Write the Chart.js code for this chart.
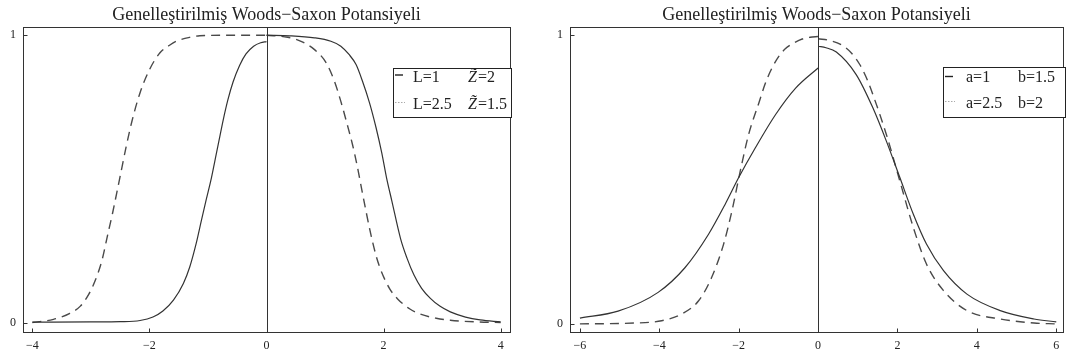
<!DOCTYPE html>
<html>
<head>
<meta charset="utf-8">
<script src="https://cdn.jsdelivr.net/npm/chart.js@4.4.0/dist/chart.umd.min.js"></script>
<style>
  body { margin: 0; background: #fff; width: 1067px; height: 358px; position: relative; overflow: hidden; }
  #wrapL { position: absolute; left: 0; top: 0; }
  #wrapR { position: absolute; left: 540px; top: 0; }
</style>
</head>
<body>
<div id="wrapL"><canvas id="chartL" width="540" height="358"></canvas></div>
<div id="wrapR"><canvas id="chartR" width="527" height="358"></canvas></div>
<script>
// Genelleştirilmiş Woods-Saxon potansiyeli - iki panel

const chartTitle = 'Genelleştirilmiş Woods−Saxon Potansiyeli';

// sol panel: L=1 Z=2 (düz) / L=2.5 Z=1.5 (kesikli)
const leftXTicks = [-4, -2, 0, 2, 4];
const leftYTicks = [0, 1];

const solidNegX = [-4.0, -3.0, -2.5, -2.16, -1.94, -1.77, -1.59, -1.42, -1.31, -1.20, -1.11, -1.03, -0.94, -0.885, -0.81, -0.74, -0.66, -0.57, -0.46, -0.35, -0.22, -0.1, 0];
const solidNegY = [0.002, 0.003, 0.004, 0.008, 0.02, 0.041, 0.079, 0.137, 0.195, 0.277, 0.358, 0.428, 0.505, 0.56, 0.635, 0.705, 0.775, 0.838, 0.895, 0.935, 0.962, 0.974, 0.978];
const solidPosX = [0, 0.4, 0.82, 1.10, 1.27, 1.41, 1.53, 1.64, 1.76, 1.87, 1.97, 2.05, 2.14, 2.29, 2.40, 2.52, 2.65, 2.80, 2.96, 3.14, 3.4, 3.65, 4.0];
const solidPosY = [1.0, 0.998, 0.991, 0.979, 0.962, 0.933, 0.898, 0.84, 0.765, 0.68, 0.59, 0.505, 0.425, 0.293, 0.225, 0.166, 0.12, 0.085, 0.058, 0.038, 0.02, 0.01, 0.003];

const dashNegX = [-4.0, -3.64, -3.36, -3.18, -3.04, -2.93, -2.81, -2.72, -2.63, -2.56, -2.48, -2.40, -2.30, -2.16, -2.0, -1.82, -1.65, -1.54, -1.3, -1.14, -0.6, 0];
const dashNegY = [0.001, 0.012, 0.033, 0.058, 0.098, 0.145, 0.218, 0.30, 0.381, 0.45, 0.53, 0.61, 0.70, 0.80, 0.88, 0.939, 0.966, 0.979, 0.993, 0.998, 1.0, 1.0];
const dashPosX = [0, 0.36, 0.59, 0.82, 1.02, 1.16, 1.27, 1.38, 1.47, 1.55, 1.64, 1.78, 1.87, 1.95, 2.1, 2.24, 2.45, 2.63, 2.9, 3.14, 3.6, 4.0];
const dashPosY = [1.0, 0.993, 0.979, 0.95, 0.904, 0.84, 0.77, 0.689, 0.619, 0.545, 0.45, 0.31, 0.235, 0.185, 0.12, 0.083, 0.048, 0.03, 0.016, 0.009, 0.003, 0.001];

// sağ panel: a=1 b=1.5 (düz) / a=2.5 b=2 (kesikli)
const rightXTicks = [-6, -4, -2, 0, 2, 4, 6];
const rightYTicks = [0, 1];

const abSolidNegX = [-6.0, -5.04, -4.03, -3.35, -2.76, -2.34, -2.0, -1.58, -1.07, -0.56, 0];
const abSolidNegY = [0.02, 0.044, 0.109, 0.195, 0.31, 0.414, 0.506, 0.609, 0.724, 0.816, 0.885];
const abSolidPosX = [0, 0.2, 0.46, 0.96, 1.38, 1.72, 2.06, 2.40, 2.73, 3.16, 3.75, 4.59, 5.44, 6.0];
const abSolidPosY = [0.96, 0.955, 0.94, 0.862, 0.747, 0.632, 0.506, 0.379, 0.276, 0.184, 0.103, 0.046, 0.017, 0.007];

const abDashNegX = [-6.0, -4.62, -3.94, -3.44, -3.01, -2.68, -2.38, -2.17, -1.96, -1.75, -1.49, -1.32, -1.16, -0.99, -0.82, -0.6, -0.4, -0.2, 0];
const abDashNegY = [0.0, 0.003, 0.011, 0.034, 0.08, 0.161, 0.276, 0.391, 0.529, 0.655, 0.765, 0.835, 0.885, 0.925, 0.952, 0.972, 0.985, 0.991, 0.994];
const abDashPosX = [0, 0.3, 0.62, 0.85, 1.05, 1.22, 1.38, 1.72, 2.06, 2.40, 2.73, 3.16, 3.75, 4.59, 5.44, 6.0];
const abDashPosY = [0.986, 0.98, 0.962, 0.935, 0.897, 0.85, 0.793, 0.655, 0.494, 0.333, 0.207, 0.115, 0.046, 0.017, 0.003, 0.0];

const SERIF = "'Liberation Serif', 'Times New Roman', serif";
Chart.defaults.font.family = SERIF;

const toPoints = (xs, ys) => xs.map((x, i) => ({ x: x, y: ys[i] }));

function curve(xs, ys, dashed) {
  return {
    data: toPoints(xs, ys),
    showLine: true,
    pointRadius: 0,
    borderColor: dashed ? '#4a4a4a' : '#333',
    borderWidth: dashed ? 1.4 : 1.2,
    borderDash: dashed ? [9, 6] : [],
    cubicInterpolationMode: 'monotone',
    fill: false
  };
}

const fmtTick = v => (v < 0 ? '−' + Math.abs(v) : String(v));

// çerçeve, içe dönük tikler ve x=0 ekseni
const framePlugin = {
  id: 'wsFrame',
  afterDatasetsDraw(chart) {
    const { ctx, chartArea: a, scales } = chart;
    const line = (x1, y1, x2, y2) => { ctx.beginPath(); ctx.moveTo(x1, y1); ctx.lineTo(x2, y2); ctx.stroke(); };
    ctx.save();
    ctx.strokeStyle = '#333';
    ctx.lineWidth = 1;
    ctx.setLineDash([]);
    const L = Math.round(a.left) + 0.5, R = Math.round(a.right) + 0.5;
    const T = Math.round(a.top) + 0.5, B = Math.round(a.bottom) + 0.5;
    ctx.strokeRect(L, T, R - L, B - T);
    const x0 = Math.round(scales.x.getPixelForValue(0)) + 0.5;
    line(x0, T, x0, B);
    scales.x.ticks.forEach(t => {
      const px = Math.round(scales.x.getPixelForValue(t.value)) + 0.5;
      line(px, B, px, B - 4);
    });
    scales.y.ticks.forEach(t => {
      const py = Math.round(scales.y.getPixelForValue(t.value)) + 0.5;
      line(L, py, L + 4, py);
    });
    ctx.restore();
  }
};

// kutulu lejant
function makeLegend(cfg) {
  return {
    id: 'wsLegend',
    afterDraw(chart) {
      const ctx = chart.ctx;
      ctx.save();
      ctx.fillStyle = '#fff';
      ctx.fillRect(cfg.x, cfg.y, cfg.w, cfg.h);
      ctx.strokeStyle = '#222';
      ctx.lineWidth = 1;
      ctx.strokeRect(cfg.x + 0.5, cfg.y + 0.5, cfg.w, cfg.h);
      cfg.rows.forEach((row, i) => {
        // örnek çizgi
        ctx.beginPath();
        ctx.strokeStyle = i === 0 ? '#222' : '#aaa';
        ctx.lineWidth = i === 0 ? 1.4 : 1;
        ctx.setLineDash(i === 0 ? [] : [1.5, 1.5]);
        ctx.moveTo(cfg.sx, row.ly);
        ctx.lineTo(cfg.sx + (i === 0 ? 8 : 10), row.ly);
        ctx.stroke();
        ctx.setLineDash([]);
        ctx.fillStyle = '#222';
        ctx.textBaseline = 'alphabetic';
        row.parts.forEach(p => {
          ctx.font = (p.italic ? 'italic ' : '') + '16px ' + SERIF;
          ctx.fillText(p.text, p.x, row.base);
        });
      });
      ctx.restore();
    }
  };
}

function makeOptions(xMin, xMax, yMin, yMax, xTicks, yTicks, yAxisWidth, padRight) {
  return {
    responsive: false,
    animation: false,
    layout: { padding: { left: 0, right: padRight, top: 0, bottom: 0 } },
    plugins: {
      legend: { display: false },
      tooltip: { enabled: false },
      title: {
        display: true,
        text: chartTitle,
        color: '#222',
        fullSize: false,
        font: { size: 18, weight: 'normal', family: SERIF },
        padding: { top: 4, bottom: 1 }
      }
    },
    scales: {
      x: {
        type: 'linear',
        min: xMin,
        max: xMax,
        grid: { display: false, drawTicks: false },
        border: { display: false },
        afterBuildTicks: s => { s.ticks = xTicks.map(v => ({ value: v })); },
        afterFit: s => { s.height = 26; },
        ticks: { color: '#222', padding: 7, maxRotation: 0, font: { size: 12, family: SERIF }, callback: fmtTick }
      },
      y: {
        type: 'linear',
        min: yMin,
        max: yMax,
        grid: { display: false, drawTicks: false },
        border: { display: false },
        afterBuildTicks: s => { s.ticks = yTicks.map(v => ({ value: v })); },
        afterFit: s => { s.width = yAxisWidth; },
        ticks: { color: '#222', padding: 7, font: { size: 12, family: SERIF }, callback: fmtTick }
      }
    }
  };
}

new Chart(document.getElementById('chartL'), {
  type: 'scatter',
  data: {
    datasets: [
      curve(solidNegX, solidNegY, false),
      curve(solidPosX, solidPosY, false),
      curve(dashNegX, dashNegY, true),
      curve(dashPosX, dashPosY, true)
    ]
  },
  options: makeOptions(-4.16, 4.16, -0.032, 1.03, leftXTicks, leftYTicks, 23, 30),
  plugins: [framePlugin, makeLegend({
    x: 393, y: 68, w: 118, h: 49, sx: 395,
    rows: [
      { ly: 75, base: 81.5, parts: [{ text: 'L=1', x: 413 }, { text: 'Z̃', x: 468, italic: true }, { text: '=2', x: 478 }] },
      { ly: 102.5, base: 108.5, parts: [{ text: 'L=2.5', x: 413 }, { text: 'Z̃', x: 468, italic: true }, { text: '=1.5', x: 478 }] }
    ]
  })]
});

new Chart(document.getElementById('chartR'), {
  type: 'scatter',
  data: {
    datasets: [
      curve(abSolidNegX, abSolidNegY, false),
      curve(abSolidPosX, abSolidPosY, false),
      curve(abDashNegX, abDashNegY, true),
      curve(abDashPosX, abDashPosY, true)
    ]
  },
  options: makeOptions(-6.25, 6.17, -0.028, 1.028, rightXTicks, rightYTicks, 30, 4),
  plugins: [framePlugin, makeLegend({
    x: 403, y: 67, w: 122, h: 50, sx: 405,
    rows: [
      { ly: 76.5, base: 81.5, parts: [{ text: 'a=1', x: 426 }, { text: 'b=1.5', x: 478 }] },
      { ly: 101.5, base: 107.5, parts: [{ text: 'a=2.5', x: 426 }, { text: 'b=2', x: 478 }] }
    ]
  })]
});
</script>
</body>
</html>
